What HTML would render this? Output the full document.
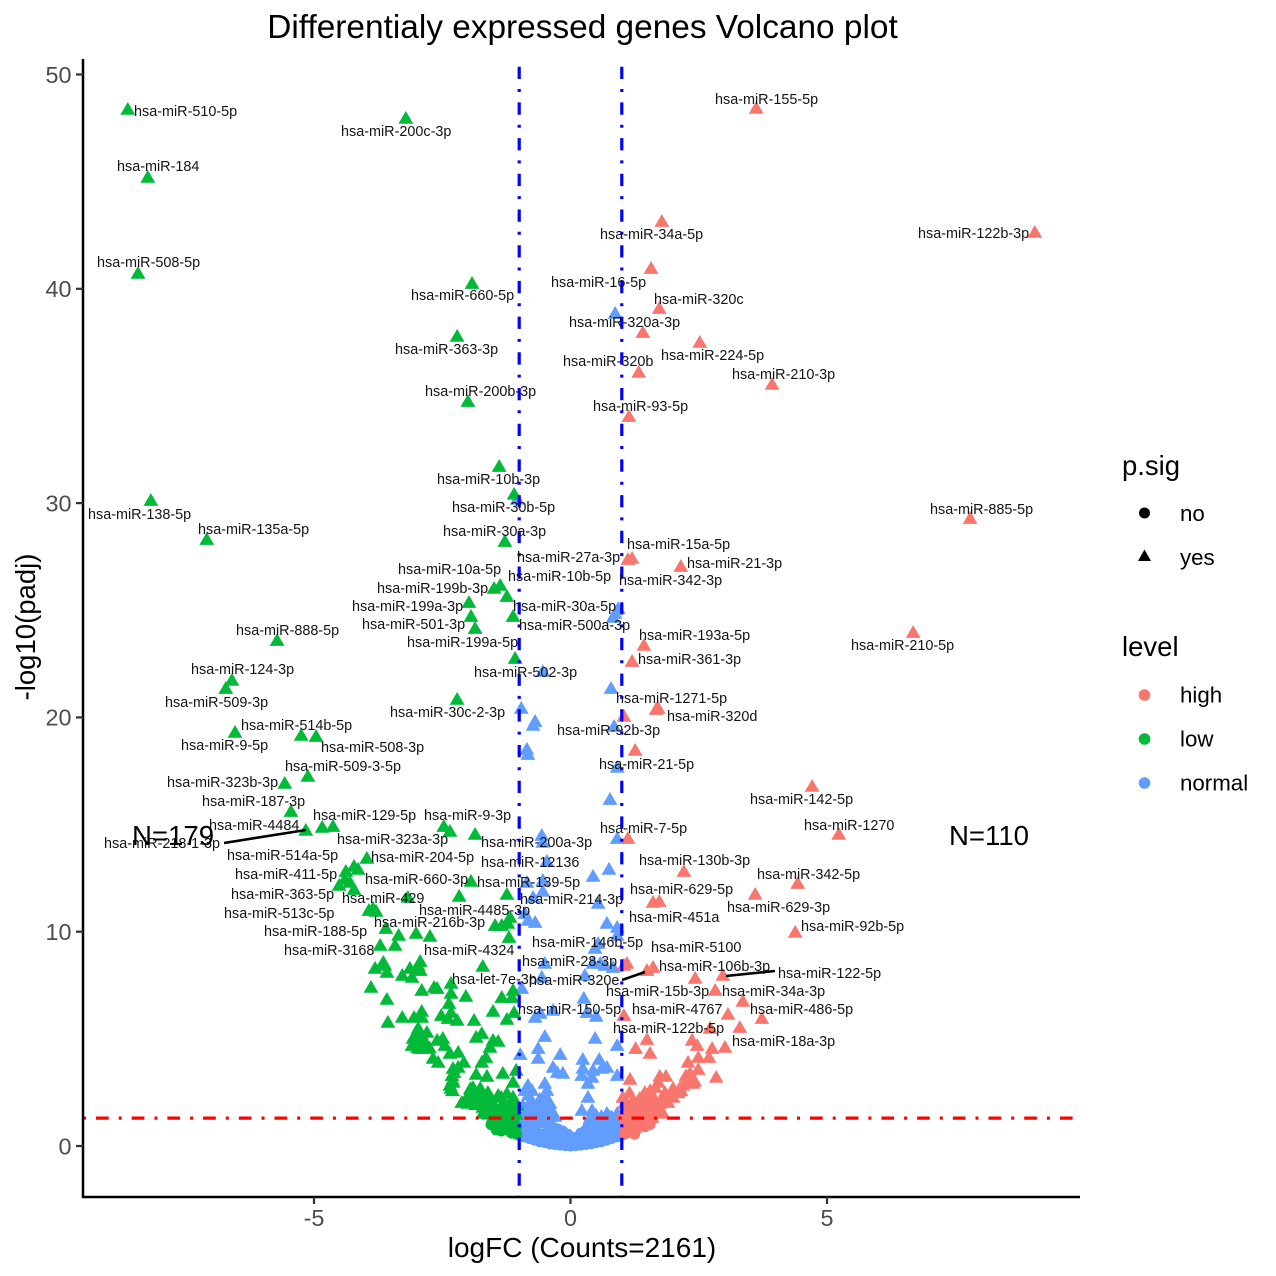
<!DOCTYPE html>
<html lang="en">
<head>
<meta charset="utf-8">
<title>Differentialy expressed genes Volcano plot</title>
<style>
html,body{margin:0;padding:0;background:#fff;}
svg{display:block;}
text{font-family:"Liberation Sans",Arial,sans-serif;}
#labels text{font-size:14.4px;fill:#141414;}
.legend-text{font-size:22.3px;fill:#000;}
.legend-title{font-size:27.5px;fill:#000;}
</style>
</head>
<body>
<svg id="chart" width="1276" height="1276" viewBox="0 0 1276 1276" xmlns="http://www.w3.org/2000/svg">
  <rect x="0" y="0" width="1276" height="1276" fill="#fff"/>
  <text x="582.5" y="38" font-size="33.4" text-anchor="middle" fill="#000">Differentialy expressed genes Volcano plot</text>
  <g id="marks"></g>
  <g id="refs"></g>
  <g id="axes"></g>
  <text x="582" y="1257" font-size="28" text-anchor="middle" fill="#000">logFC (Counts=2161)</text>
  <text transform="translate(35,627) rotate(-90)" font-size="27.5" text-anchor="middle" fill="#000">-log10(padj)</text>

  <g stroke="#000" stroke-width="2.6" fill="none">
    <line x1="224" y1="843" x2="306" y2="830"/>
    <line x1="622" y1="980" x2="645" y2="972"/>
    <line x1="726" y1="976" x2="775" y2="971"/>
  </g>

  <g id="labels">
    <text x="134" y="116">hsa-miR-510-5p</text>
    <text x="341" y="136">hsa-miR-200c-3p</text>
    <text x="715" y="104">hsa-miR-155-5p</text>
    <text x="117" y="171">hsa-miR-184</text>
    <text x="600" y="239">hsa-miR-34a-5p</text>
    <text x="918" y="238">hsa-miR-122b-3p</text>
    <text x="97" y="267">hsa-miR-508-5p</text>
    <text x="551" y="287">hsa-miR-16-5p</text>
    <text x="411" y="300">hsa-miR-660-5p</text>
    <text x="654" y="304">hsa-miR-320c</text>
    <text x="569" y="327">hsa-miR-320a-3p</text>
    <text x="395" y="354">hsa-miR-363-3p</text>
    <text x="661" y="360">hsa-miR-224-5p</text>
    <text x="563" y="366">hsa-miR-320b</text>
    <text x="732" y="379">hsa-miR-210-3p</text>
    <text x="425" y="396">hsa-miR-200b-3p</text>
    <text x="593" y="411">hsa-miR-93-5p</text>
    <text x="437" y="484">hsa-miR-10b-3p</text>
    <text x="452" y="512">hsa-miR-30b-5p</text>
    <text x="930" y="514">hsa-miR-885-5p</text>
    <text x="88" y="519">hsa-miR-138-5p</text>
    <text x="198" y="534">hsa-miR-135a-5p</text>
    <text x="443" y="536">hsa-miR-30a-3p</text>
    <text x="627" y="549">hsa-miR-15a-5p</text>
    <text x="517" y="562">hsa-miR-27a-3p</text>
    <text x="687" y="568">hsa-miR-21-3p</text>
    <text x="398" y="574">hsa-miR-10a-5p</text>
    <text x="508" y="581">hsa-miR-10b-5p</text>
    <text x="619" y="585">hsa-miR-342-3p</text>
    <text x="377" y="593">hsa-miR-199b-3p</text>
    <text x="352" y="611">hsa-miR-199a-3p</text>
    <text x="513" y="611">hsa-miR-30a-5p</text>
    <text x="362" y="629">hsa-miR-501-3p</text>
    <text x="519" y="630">hsa-miR-500a-3p</text>
    <text x="236" y="635">hsa-miR-888-5p</text>
    <text x="639" y="640">hsa-miR-193a-5p</text>
    <text x="407" y="647">hsa-miR-199a-5p</text>
    <text x="851" y="650">hsa-miR-210-5p</text>
    <text x="638" y="664">hsa-miR-361-3p</text>
    <text x="191" y="674">hsa-miR-124-3p</text>
    <text x="474" y="677">hsa-miR-502-3p</text>
    <text x="616" y="703">hsa-miR-1271-5p</text>
    <text x="165" y="707">hsa-miR-509-3p</text>
    <text x="390" y="717">hsa-miR-30c-2-3p</text>
    <text x="667" y="721">hsa-miR-320d</text>
    <text x="241" y="730">hsa-miR-514b-5p</text>
    <text x="557" y="735">hsa-miR-92b-3p</text>
    <text x="181" y="750">hsa-miR-9-5p</text>
    <text x="321" y="752">hsa-miR-508-3p</text>
    <text x="599" y="769">hsa-miR-21-5p</text>
    <text x="285" y="771">hsa-miR-509-3-5p</text>
    <text x="167" y="787">hsa-miR-323b-3p</text>
    <text x="750" y="804">hsa-miR-142-5p</text>
    <text x="202" y="806">hsa-miR-187-3p</text>
    <text x="313" y="820">hsa-miR-129-5p</text>
    <text x="424" y="820">hsa-miR-9-3p</text>
    <text x="209" y="830">hsa-miR-4484</text>
    <text x="804" y="830">hsa-miR-1270</text>
    <text x="600" y="833">hsa-miR-7-5p</text>
    <text x="337" y="844">hsa-miR-323a-3p</text>
    <text x="104" y="848">hsa-miR-218-1-3p</text>
    <text x="481" y="847">hsa-miR-200a-3p</text>
    <text x="227" y="860">hsa-miR-514a-5p</text>
    <text x="371" y="862">hsa-miR-204-5p</text>
    <text x="639" y="865">hsa-miR-130b-3p</text>
    <text x="481" y="867">hsa-miR-12136</text>
    <text x="235" y="879">hsa-miR-411-5p</text>
    <text x="757" y="879">hsa-miR-342-5p</text>
    <text x="365" y="884">hsa-miR-660-3p</text>
    <text x="477" y="887">hsa-miR-139-5p</text>
    <text x="630" y="894">hsa-miR-629-5p</text>
    <text x="231" y="899">hsa-miR-363-5p</text>
    <text x="342" y="903">hsa-miR-429</text>
    <text x="520" y="904">hsa-miR-214-3p</text>
    <text x="727" y="912">hsa-miR-629-3p</text>
    <text x="419" y="915">hsa-miR-4485-3p</text>
    <text x="224" y="918">hsa-miR-513c-5p</text>
    <text x="629" y="922">hsa-miR-451a</text>
    <text x="374" y="927">hsa-miR-216b-3p</text>
    <text x="801" y="931">hsa-miR-92b-5p</text>
    <text x="264" y="936">hsa-miR-188-5p</text>
    <text x="532" y="947">hsa-miR-146b-5p</text>
    <text x="651" y="952">hsa-miR-5100</text>
    <text x="284" y="955">hsa-miR-3168</text>
    <text x="424" y="955">hsa-miR-4324</text>
    <text x="522" y="966">hsa-miR-28-3p</text>
    <text x="659" y="971">hsa-miR-106b-3p</text>
    <text x="778" y="978">hsa-miR-122-5p</text>
    <text x="452" y="984">hsa-let-7e-3p</text>
    <text x="529" y="985">hsa-miR-320e</text>
    <text x="606" y="996">hsa-miR-15b-3p</text>
    <text x="722" y="996">hsa-miR-34a-3p</text>
    <text x="518" y="1014">hsa-miR-150-5p</text>
    <text x="632" y="1014">hsa-miR-4767</text>
    <text x="750" y="1014">hsa-miR-486-5p</text>
    <text x="613" y="1033">hsa-miR-122b-5p</text>
    <text x="732" y="1046">hsa-miR-18a-3p</text>
  </g>

  <text x="132" y="845" font-size="27.6" fill="#000">N=179</text>
  <text x="949" y="845" font-size="27.6" fill="#000">N=110</text>

  <g>
    <text class="legend-title" x="1122" y="475">p.sig</text>
    <circle cx="1144.5" cy="513" r="5.5" fill="#000"/>
    <text class="legend-text" x="1180" y="521">no</text>
    <polygon points="1144.5,549.5 1151,561 1138,561" fill="#000"/>
    <text class="legend-text" x="1180" y="565">yes</text>
  </g>
  <g>
    <text class="legend-title" x="1122" y="656">level</text>
    <circle cx="1144.5" cy="695" r="5.8" fill="#F8766D"/>
    <text class="legend-text" x="1180" y="702.5">high</text>
    <circle cx="1144.5" cy="739" r="5.8" fill="#00BA38"/>
    <text class="legend-text" x="1180" y="746.5">low</text>
    <circle cx="1144.5" cy="783" r="5.8" fill="#619CFF"/>
    <text class="legend-text" x="1180" y="790.5">normal</text>
  </g>
</svg>

<script>
const xTicks = [-5, 0, 5];
const yTicks = [0, 10, 20, 30, 40, 50];
const logFcCutoffs = [-1, 1];
const padjCutoff = 1.3;

// [logFC, -log10(padj)] significant genes
const lowYes = [[-8.63,48.39],[-3.21,47.97],[-8.24,45.22],[-8.43,40.74],[-1.92,40.27],[-2.21,37.8],[-2.0,34.76],[-1.39,31.73],[-1.10,30.43],[-8.18,30.14],[-7.09,28.32],[-1.28,28.23],[-1.49,26.04],[-1.37,26.18],[-1.24,25.66],[-1.98,25.38],[-1.94,24.73],[-1.12,24.73],[-1.86,24.17],[-5.72,23.61],[-1.08,22.77],[-6.6,21.75],[-6.72,21.37],[-2.21,20.86],[-6.54,19.32],[-5.25,19.18],[-4.96,19.13],[-5.12,17.27],[-5.57,16.94],[-5.45,15.63],[-5.16,14.75],[-4.84,14.89],[-4.63,14.93],[-2.47,14.93],[-2.35,14.7],[-1.86,14.56],[-3.97,13.44],[-4.22,13.07],[-4.14,12.93],[-4.38,12.83],[-4.4,12.46],[-4.3,12.32],[-4.51,12.18],[-4.22,11.99],[-1.94,12.37],[-2.17,11.67],[-3.17,11.62],[-1.24,11.76],[-3.93,11.01],[-3.85,11.11],[-3.79,10.97],[-1.18,10.69],[-3.6,10.17],[-3.35,9.85],[-3.01,9.94],[-2.74,9.8],[-3.71,9.38],[-3.42,9.38],[-1.47,10.31],[-1.34,10.31],[-1.22,10.41],[-1.2,9.75],[-1.71,8.4],[-3.65,8.59],[-3.62,8.45],[-3.81,8.31],[-3.58,8.12],[-2.93,8.63],[-2.97,8.45],[-3.13,8.31],[-2.93,8.21],[-3.28,7.98],[-3.09,7.89],[-3.89,7.42],[-3.58,6.86],[-2.9,7.28],[-2.66,7.42],[-2.6,7.37],[-2.33,7.61],[-2.33,7.14],[-2.04,7.0],[-2.37,6.67],[-2.9,6.3],[-2.9,6.02],[-3.05,6.02],[-3.28,6.02],[-3.56,5.79],[-2.52,6.11],[-2.39,5.97],[-2.33,6.25],[-2.21,5.88],[-1.88,5.88],[-1.51,6.3],[-1.24,5.93],[-1.1,6.25],[-1.12,7.28],[-1.14,6.95],[-1.34,6.95],[-2.97,5.51],[-2.99,5.27],[-2.8,5.32],[-3.07,5.04],[-2.93,4.95],[-3.09,4.71],[-2.93,4.57],[-2.84,4.57],[-2.6,4.95],[-2.49,5.04],[-2.45,4.71],[-2.35,4.34],[-2.19,4.39],[-2.68,4.11],[-2.58,3.92],[-2.08,3.92],[-1.73,3.92],[-1.65,4.15],[-1.84,5.09],[-1.73,5.27],[-1.57,4.62],[-1.51,4.95],[-1.41,4.9],[-2.29,3.64],[-2.19,3.69],[-2.31,3.31],[-2.29,2.99],[-2.33,2.71],[-1.84,3.36],[-1.63,3.27],[-1.32,3.41],[-1.06,3.55],[-1.12,2.99],[-2.12,2.05],[-2.02,2.29],[-1.9,2.75],[-1.76,2.71],[-1.9,2.24],[-2.0,2.01],[-1.8,2.15],[-1.61,2.52],[-1.71,1.82],[-1.57,1.68],[-1.41,2.38],[-1.24,2.47],[-1.32,2.01],[-1.18,2.01],[-1.04,1.91],[-1.24,1.68],[-1.43,1.35],[-1.71,1.54],[-1.2,1.4],[-1.06,1.5],[-2.05,2.15],[-1.95,2.4],[-1.85,2.45],[-1.85,1.95],[-1.75,2.35],[-1.65,2.2],[-1.65,1.85],[-1.55,2.2],[-1.5,1.9],[-1.45,1.7],[-1.35,2.3],[-1.3,1.7],[-1.15,1.75],[-1.12,2.3],[-1.38,1.5],[-1.6,1.5],[-1.5,1.4],[-1.3,1.4],[-2.0,2.2],[-1.85,2.15],[-1.95,2.7],[-1.7,2.45],[-3.0,5.1],[-2.95,4.75],[-3.02,4.85],[-2.9,5.2],[-2.85,4.9],[-2.75,4.6],[-2.98,4.6],[-2.3,3.1],[-2.35,2.85],[-2.27,3.45],[-2.3,2.6]];
const highYes = [[3.62,48.44],[9.05,42.65],[1.78,43.16],[1.57,40.97],[1.73,39.1],[1.41,37.98],[2.52,37.52],[1.33,36.12],[3.93,35.56],[1.14,34.06],[7.79,29.3],[1.12,27.39],[1.2,27.44],[2.15,27.06],[6.68,23.98],[1.43,23.38],[1.2,22.63],[1.71,20.44],[1.67,20.39],[1.04,20.07],[1.26,18.48],[4.71,16.8],[1.12,14.37],[5.23,14.56],[2.21,12.83],[4.43,12.27],[3.6,11.76],[1.61,11.39],[1.73,11.43],[4.38,9.99],[1.04,8.45],[1.1,8.54],[1.49,8.21],[1.61,8.35],[2.43,7.84],[2.97,7.98],[2.82,7.28],[3.36,6.77],[3.07,6.16],[3.73,5.97],[1.04,6.11],[3.3,5.55],[2.72,5.51],[1.49,4.99],[1.27,4.57],[1.55,4.34],[2.37,4.95],[2.47,4.71],[2.76,4.57],[3.01,4.62],[2.49,4.15],[2.7,4.15],[2.29,3.92],[2.49,3.59],[2.33,3.41],[2.84,3.22],[1.16,3.13],[1.74,3.27],[1.86,3.27],[1.71,2.99],[2.27,3.08],[2.39,2.94],[2.19,2.85],[2.0,2.71],[2.13,2.71],[1.84,2.52],[2.0,2.29],[1.9,2.05],[1.45,2.52],[1.59,2.38],[1.02,2.29],[1.22,2.15],[1.35,2.24],[1.74,2.01],[1.1,1.82],[1.35,1.82],[1.55,1.82],[1.69,1.68],[1.8,1.54],[1.02,1.54],[1.22,1.45],[1.41,1.45],[1.59,1.35],[1.05,2.0],[1.15,2.5],[1.1,2.0],[1.25,1.9],[1.3,2.0],[1.4,2.1],[1.5,2.1],[1.6,2.0],[1.45,1.6],[1.3,1.55],[1.15,1.6],[1.65,1.9],[1.75,1.75],[1.55,2.6],[1.65,2.75],[1.8,2.3],[1.95,2.45],[2.1,2.5],[2.25,3.3],[2.35,3.2],[2.42,3.05],[2.15,2.6],[2.28,2.95]];
const normalYes = [[0.87,38.87],[-1.04,30.2],[0.93,25.1],[0.87,24.87],[0.83,24.68],[-0.54,22.16],[0.79,21.37],[-0.96,20.44],[-0.69,19.83],[-0.73,19.65],[-0.85,18.53],[-0.83,18.29],[0.85,19.6],[0.91,17.69],[0.77,16.19],[-0.56,14.51],[-0.54,14.19],[0.91,14.37],[-0.46,13.3],[0.44,12.6],[0.75,12.93],[-0.85,12.32],[-0.54,12.41],[-0.54,11.9],[-0.73,11.62],[0.54,11.34],[-0.89,10.87],[-0.83,10.55],[-0.69,10.45],[0.71,10.41],[0.91,10.22],[0.91,9.85],[0.48,9.24],[0.54,9.47],[-0.5,8.54],[0.67,8.45],[0.83,8.35],[0.44,8.54],[0.58,8.54],[-0.56,7.89],[0.28,7.98],[-0.95,7.37],[0.26,6.91],[-0.59,6.21],[-0.69,6.02],[-0.34,6.35],[0.32,6.25],[0.5,6.07],[-0.5,5.13],[0.48,5.04],[0.91,4.71],[-0.63,4.57],[-0.98,4.29],[-0.2,4.29],[-0.63,4.11],[0.24,4.06],[0.56,4.06],[-0.34,3.69],[0.71,3.69],[-0.26,3.45],[-0.15,3.41],[0.24,3.64],[0.44,3.55],[0.61,3.64],[0.22,3.31],[0.42,3.22],[0.34,2.94],[0.91,3.31],[-0.83,2.85],[-0.5,2.94],[-0.89,2.61],[-0.75,2.61],[-0.46,2.61],[0.34,2.29],[-0.93,1.91],[-0.75,1.82],[-0.56,2.05],[-0.4,2.01],[-0.65,1.68],[-0.46,1.68],[0.22,1.68],[0.42,1.68],[0.71,1.54],[0.91,1.54],[-0.98,1.35],[-0.75,1.38],[-0.5,1.4],[-0.3,1.4],[0.4,1.4],[0.6,1.4],[0.8,1.38],[-0.9,1.5],[-0.85,1.7],[-0.7,1.55],[-0.6,1.5],[-0.55,1.8],[-0.35,1.6],[-0.6,2.2],[-0.78,2.1],[-0.48,2.3],[-0.82,2.4],[0.75,1.4],[0.9,1.4],[0.5,1.45]];

// [logFC, -log10(padj)] non-significant genes
const lowNo = [[-1.05,0.55],[-1.05,0.9],[-1.1,1.15],[-1.18,0.84],[-1.24,0.75],[-1.12,0.98],[-1.32,0.89],[-1.47,0.93],[-1.4,1.1],[-1.3,1.2],[-1.55,1.0],[-1.45,0.75],[-1.35,0.7],[-1.25,1.05],[-1.15,0.6],[-1.1,0.7],[-1.5,1.2],[-1.2,1.2],[-1.4,0.8]];
const highNo = [[1.05,0.55],[1.05,0.9],[1.1,1.2],[1.2,0.65],[1.2,1.05],[1.3,0.8],[1.35,1.15],[1.45,1.1],[1.55,1.22],[1.1,0.6],[1.15,0.85],[1.25,0.55],[1.35,0.95],[1.45,0.9],[1.55,1.0],[1.25,1.25],[1.6,1.25],[1.05,1.25],[1.4,1.25]];
const normalNo = [[-1,0.5],[-0.9,0.42],[-0.8,0.35],[-0.7,0.27],[-0.6,0.2],[-0.5,0.16],[-0.4,0.1],[-0.3,0.07],[-0.2,0.04],[-0.1,0.02],[0,0],[0.1,0.02],[0.2,0.04],[0.3,0.07],[0.4,0.1],[0.5,0.16],[0.6,0.2],[0.7,0.27],[0.8,0.35],[0.9,0.42],[1,0.5],[-0.95,0.9],[-0.85,0.8],[-0.75,0.7],[-0.65,0.65],[-0.55,0.55],[-0.45,0.5],[-0.35,0.4],[-0.25,0.3],[-0.15,0.2],[0,0.2],[0.15,0.2],[0.25,0.3],[0.35,0.4],[0.45,0.45],[0.55,0.5],[0.65,0.6],[0.75,0.7],[0.85,0.8],[0.95,0.9],[-0.95,1.2],[-0.85,1.15],[-0.75,1.1],[-0.65,1.05],[-0.55,1.1],[-0.45,0.95],[-0.35,0.9],[-0.25,0.8],[-0.15,0.7],[-0.05,0.55],[0.2,0.6],[0.3,0.75],[0.4,0.9],[0.5,0.95],[0.6,0.95],[0.7,1.0],[0.8,1.1],[0.9,1.2],[0.97,1.2],[-0.9,0.7],[-0.8,0.6],[-0.7,0.45],[-0.6,0.45],[-0.5,0.35],[-0.4,0.3],[-0.3,0.25],[0.05,0.35],[-0.2,0.5],[-0.1,0.35],[0.1,0.4],[0.2,0.4],[0.3,0.5],[0.4,0.6],[0.5,0.7],[0.6,0.7],[0.7,0.8],[0.8,0.85],[0.9,0.7],[0.55,1.1],[0.65,1.15],[0.75,1.2],[0.45,1.05],[0.35,1.0],[-0.6,1.25],[-0.4,1.1],[-0.5,1.2]];

const colorHigh = '#F8766D';
const colorLow = '#00BA38';
const colorNormal = '#619CFF';

const SVG_NS = 'http://www.w3.org/2000/svg';
function xScale(v) { return 570.5 + 51.3 * v; }
function yScale(v) { return 1146 - 21.43 * v; }
function make(tag, attrs, parent) {
  const el = document.createElementNS(SVG_NS, tag);
  for (const k in attrs) el.setAttribute(k, attrs[k]);
  parent.appendChild(el);
  return el;
}

const marks = document.getElementById('marks');
function drawCircles(points, color, name) {
  points.forEach(function (p) {
    const el = make('circle', { cx: xScale(p[0]), cy: yScale(p[1]), r: 5.5, fill: color }, marks);
    
    
  });
}
function drawTriangles(points, color, name) {
  points.forEach(function (p) {
    const cx = xScale(p[0]), cy = yScale(p[1]);
    const pts = cx + ',' + (cy - 7) + ' ' + (cx + 7.4) + ',' + (cy + 5.8) + ' ' + (cx - 7.4) + ',' + (cy + 5.8);
    const el = make('polygon', { points: pts, fill: color }, marks);
    
    
  });
}
drawCircles(normalNo, colorNormal, 'point-normal-not-significant');
drawTriangles(normalYes, colorNormal, 'point-normal-significant');
drawCircles(highNo, colorHigh, 'point-high-not-significant');
drawTriangles(highYes, colorHigh, 'point-high-significant');
drawCircles(lowNo, colorLow, 'point-low-not-significant');
drawTriangles(lowYes, colorLow, 'point-low-significant');

const refs = document.getElementById('refs');
logFcCutoffs.forEach(function (c) {
  const el = make('line', { x1: xScale(c), x2: xScale(c), y1: 66.7, y2: 1197, stroke: '#0000ff', 'stroke-width': 3.2, 'stroke-dasharray': '12.3 10 3 10.4' }, refs);
  
  
});
const padjLine = make('line', { x1: 83, x2: 1080, y1: yScale(padjCutoff), y2: yScale(padjCutoff), stroke: '#ff0000', 'stroke-width': 3.2, 'stroke-dasharray': '3 10 12.7 10' }, refs);



const axes = document.getElementById('axes');
const yAxisLine = make('line', { x1: 83, x2: 83, y1: 59, y2: 1198, stroke: '#000', 'stroke-width': 2.5 }, axes);


const xAxisLine = make('line', { x1: 82, x2: 1080, y1: 1197, y2: 1197, stroke: '#000', 'stroke-width': 2.5 }, axes);



xTicks.forEach(function (t) {
  const tick = make('line', { x1: xScale(t), x2: xScale(t), y1: 1197, y2: 1204, stroke: '#333', 'stroke-width': 2.2 }, axes);
  
  
  const label = make('text', { x: xScale(t), y: 1226, 'font-size': 23.4, 'text-anchor': 'middle', fill: '#4d4d4d' }, axes);
  label.textContent = String(t);
  
  
});
yTicks.forEach(function (t) {
  const tick = make('line', { x1: 76, x2: 83, y1: yScale(t), y2: yScale(t), stroke: '#333', 'stroke-width': 2.2 }, axes);
  
  
  const label = make('text', { x: 71.5, y: yScale(t) + 8.3, 'font-size': 23.4, 'text-anchor': 'end', fill: '#4d4d4d' }, axes);
  label.textContent = String(t);
  
  
});
</script>
</body>
</html>
